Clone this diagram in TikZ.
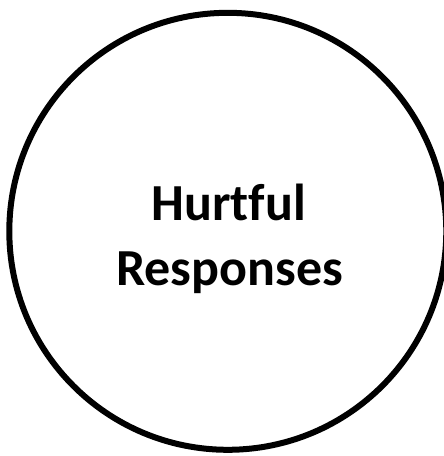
\documentclass[tikz,border=0pt]{standalone}
\usepackage{fontspec}
\setmainfont{Carlito}[Ligatures={NoCommon,NoRare}]
\tikzset{ring/.style={draw=black,line width=6pt},
lbl/.style={font=\bfseries\fontsize{52}{60}\selectfont,anchor=base,inner sep=0pt}}
\begin{document}
\begin{tikzpicture}[x=1pt,y=1pt]
\useasboundingbox (0,0) rectangle (444,-456);
\node[ring,circle,minimum size=437pt,inner sep=0pt] (c) at (227.8,-231.3) {};
\node[lbl] (t1) at (228.8,-220) {Hurtful};
\node[lbl] (t2) at (229.5,-285) {Responses};
\end{tikzpicture}
\end{document}
